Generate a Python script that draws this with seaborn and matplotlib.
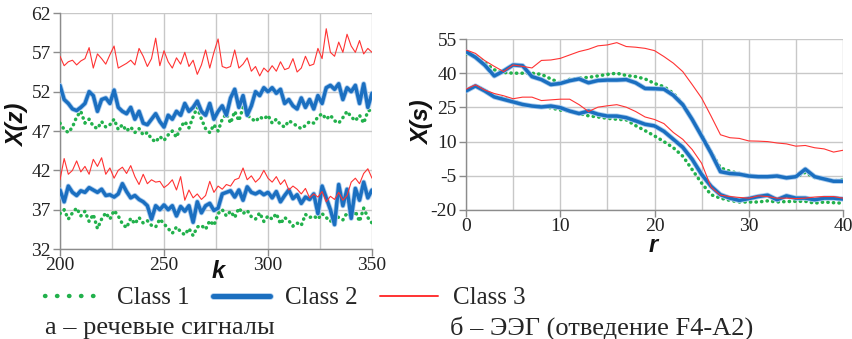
import matplotlib
matplotlib.use("Agg")
import matplotlib.pyplot as plt
import seaborn as sns
import pandas as pd
from matplotlib import patheffects as pe
from matplotlib.lines import Line2D

# ---------------- data: panel a (speech signals) ----------------
k = list(range(200, 351, 2))

speech_c3_hi = [56.5, 55.3, 55.8, 56.0, 55.4, 55.9, 56.2, 57.6, 55.0, 56.8, 56.2,
                55.5, 56.7, 57.8, 55.0, 55.3, 55.6, 56.0, 55.4, 57.5, 56.5,
                55.2, 56.2, 58.8, 55.3, 57.2, 55.8, 55.0, 56.3, 55.5, 57.0,
                55.2, 56.0, 54.2, 55.4, 57.3, 55.0, 57.0, 58.7, 55.2, 55.0,
                55.2, 57.3, 55.0, 55.5, 56.3, 54.6, 55.2, 54.0, 55.0, 54.5,
                55.3, 54.6, 55.8, 54.8, 55.0, 56.2, 54.5, 55.0, 56.5, 55.3,
                55.5, 57.5, 56.2, 60.0, 57.0, 56.5, 58.3, 57.0, 59.3, 57.8,
                57.0, 58.5, 56.8, 57.5, 57.0]
speech_c2_hi = [52.8, 51.0, 50.5, 49.8, 49.6, 50.0, 50.5, 52.0, 51.5, 49.5, 51.0,
                51.2, 50.5, 52.2, 50.0, 49.5, 49.2, 50.0, 48.5, 49.5, 48.0,
                47.8, 48.5, 49.2, 48.2, 47.5, 49.0, 48.5, 49.5, 49.0, 50.5,
                49.5, 50.0, 50.8, 49.5, 49.0, 50.5, 48.5, 49.5, 50.2, 49.0,
                51.2, 52.3, 50.0, 51.5, 49.0, 50.2, 52.0, 51.5, 52.5, 52.0,
                52.5, 51.8, 52.3, 50.5, 51.0, 50.2, 49.8, 51.2, 50.0, 51.0,
                49.8, 51.5, 50.5, 52.5, 52.8, 52.3, 53.0, 51.0, 52.5, 52.0,
                52.8, 50.5, 53.0, 50.0, 51.8]
speech_c1_hi = [48.0, 47.2, 46.8, 47.5, 48.8, 49.5, 48.0, 48.5, 47.6, 47.3, 48.2,
                47.5, 47.8, 48.5, 47.2, 47.8, 47.0, 47.5, 46.8, 47.3, 46.5,
                46.8, 46.0, 45.6, 46.3, 45.8, 46.5, 47.0, 46.2, 47.5, 48.2,
                47.4, 48.8, 50.0, 48.5, 47.3, 46.8, 47.8, 47.0, 48.5, 49.2,
                48.0, 49.5, 48.3, 50.0, 49.0, 48.6, 48.2, 48.8, 48.5, 49.0,
                48.0, 48.5, 47.8, 47.5, 48.3, 48.0, 47.6, 47.3, 47.7, 48.2,
                48.0, 48.8, 49.2, 48.5, 49.0, 48.3, 48.0, 48.7, 49.5, 48.8,
                48.3, 49.0, 48.0, 49.5, 49.8]
speech_c3_lo = [40.8, 43.5, 41.5, 42.0, 43.2, 41.8, 42.5, 41.5, 43.4, 42.5, 43.6,
                41.5, 42.3, 41.0, 42.0, 42.4, 41.6, 42.6, 41.2, 40.2, 41.5,
                40.3, 40.8, 40.5, 40.6, 39.8, 40.2, 40.8, 39.5, 41.2, 38.2,
                39.5, 38.5, 39.0, 38.3, 38.8, 40.6, 39.2, 40.0, 39.6, 40.2,
                40.0, 40.8, 41.0, 42.3, 40.8, 41.3, 40.5, 41.0, 42.0, 41.0,
                40.5, 41.2, 40.2, 40.8, 39.5, 40.0, 39.6, 39.0, 39.7, 38.5,
                39.0, 38.6, 39.3, 38.0, 38.7, 38.3, 39.2, 38.2, 38.8, 40.5,
                41.0, 40.3, 41.6, 42.2, 41.0]
speech_c2_lo = [39.5, 38.0, 40.0, 39.2, 38.8, 39.4, 39.2, 39.8, 39.5, 39.2, 39.6,
                38.8, 38.9, 38.6, 39.0, 40.3, 39.3, 38.5, 38.8, 38.3, 38.0,
                37.5, 35.8, 37.5, 37.0, 37.6, 37.0, 37.5, 36.2, 37.4, 36.8,
                37.5, 35.4, 38.0, 36.6, 37.5, 37.8, 36.9, 37.2, 39.0, 39.2,
                39.4, 38.6, 39.5, 38.2, 39.9, 39.2, 39.0, 39.3, 38.9, 39.2,
                38.5, 39.3, 38.0, 38.8, 39.5, 38.4, 38.9, 37.8, 38.6, 38.3,
                39.0, 36.5, 40.0, 38.5, 37.0, 35.1, 40.2, 37.5, 39.6, 35.9,
                39.7, 38.2, 40.5, 38.5, 39.5]
speech_c1_lo = [36.5, 37.0, 35.8, 36.6, 37.2, 36.2, 36.8, 35.5, 36.4, 34.6, 35.8,
                36.6, 35.8, 36.9, 36.2, 35.2, 34.7, 35.9, 35.2, 36.0, 35.3,
                35.6, 35.0, 34.8, 35.8, 35.2, 34.6, 34.0, 34.8, 34.2, 33.8,
                34.6, 33.7, 34.8, 35.0, 34.5, 35.6, 35.0, 36.5, 37.0, 36.2,
                36.8, 36.0, 37.2, 36.5, 36.9, 36.1, 35.8, 36.6, 35.5, 36.2,
                35.8, 36.5, 35.2, 36.0, 35.6, 34.9, 35.3, 35.0, 36.4, 36.0,
                36.2, 35.8, 36.5, 36.0, 35.5, 36.3, 36.0, 35.7, 36.6, 36.2,
                36.8, 35.5, 37.2, 36.0, 35.3]

speech_xticks = [200, 250, 300, 350]
speech_xgrid = [225, 275, 325]
speech_yticks = [32, 37, 42, 47, 52, 57, 62]

# ---------------- data: panel b (EEG, F4-A2) ----------------
r = list(range(0, 41))

eeg_c3_hi = [50.2, 48.7, 45.5, 43.0, 40.7, 43.6, 43.0, 42.3, 45.6, 45.8,
             46.5, 48.0, 49.5, 50.5, 52.0, 52.4, 53.4, 51.7, 51.4, 50.9,
             49.9, 47.3, 44.4, 40.7, 35.0, 29.1, 21.2, 13.0, 11.7, 11.4,
             10.3, 10.2, 10.0, 9.4, 9.0, 8.0, 8.3, 7.3, 6.8, 5.4, 6.2]
eeg_c2_hi = [49.5, 47.0, 43.5, 38.8, 41.0, 43.6, 43.3, 38.5, 37.2, 35.0,
             35.5, 36.7, 37.5, 35.8, 36.8, 37.0, 37.0, 37.2, 35.8, 33.3,
             33.2, 33.0, 30.3, 26.2, 19.7, 12.4, 5.0, -3.2, -4.0, -4.3,
             -5.1, -5.4, -5.4, -5.1, -5.9, -5.4, -2.1, -5.4, -6.4, -7.4, -7.4]
eeg_c1_hi = [48.5, 47.5, 44.5, 41.5, 40.3, 40.0, 40.0, 40.0, 39.5, 37.5,
             35.7, 37.3, 37.8, 38.2, 38.8, 39.5, 40.0, 39.0, 38.5, 37.5,
             35.5, 34.1, 31.2, 26.5, 19.8, 13.0, 5.5, -1.5, -3.0, -4.0,
             -4.8, -5.3, -5.5, -5.3, -5.6, -5.6, -3.5, -5.8, -6.5, -7.2, -6.8]
eeg_c3_lo = [33.0, 34.9, 32.6, 31.1, 30.1, 28.8, 29.5, 29.5, 28.0, 28.3,
             28.6, 28.6, 26.2, 23.2, 25.1, 25.7, 26.2, 25.1, 23.2, 20.8,
             19.7, 17.9, 14.0, 11.0, 6.5, 0.5, -10.0, -13.5, -14.1, -14.5,
             -14.8, -13.8, -14.1, -14.8, -14.8, -15.0, -14.8, -14.3, -14.1, -14.1, -14.8]
eeg_c2_lo = [32.2, 34.4, 32.2, 29.6, 28.5, 27.4, 26.3, 25.6, 25.2, 25.6,
             24.9, 23.4, 22.3, 23.4, 22.0, 21.2, 21.2, 20.5, 19.1, 17.6,
             16.9, 14.5, 11.0, 7.5, 2.2, -4.4, -9.6, -13.3, -14.8, -15.8,
             -15.0, -14.1, -13.5, -15.5, -13.8, -14.8, -14.8, -15.5, -14.8, -14.8, -15.2]
eeg_c1_lo = [32.5, 34.5, 32.5, 30.0, 29.0, 27.8, 26.3, 25.7, 25.5, 24.8,
             23.8, 23.5, 22.3, 21.3, 20.8, 20.2, 19.8, 19.5, 17.0, 14.8,
             12.5, 10.0, 7.3, 3.6, -2.3, -8.2, -13.3, -14.8, -15.8, -16.5,
             -16.5, -16.5, -16.0, -16.5, -16.3, -16.2, -16.2, -17.0, -16.5, -16.8, -17.0]

eeg_xticks = [0, 10, 20, 30, 40]
eeg_xgrid = [5, 15, 25, 35]
eeg_yticks = [-20, -5, 10, 25, 40, 55]

class_names = ["Class 1", "Class 2", "Class 3"]
caption_a = "а – речевые сигналы"
caption_b = "б – ЭЭГ (отведение F4-A2)"

# ---------------- styling ----------------
sns.set_theme(style="whitegrid")
plt.rcParams["font.family"] = ["Liberation Serif", "DejaVu Serif"]
plt.rcParams["axes.unicode_minus"] = False

GREEN = "#22b14c"
BLUE = "#1b6fc0"
HALO = "#a9cbee"
RED = "#ff3333"
GRID = "#c8c8c8"
SPINE = "#8c8c8c"

W, H = 853, 339
fig = plt.figure(figsize=(W / 100, H / 100), dpi=100)
fig.patch.set_facecolor("white")
ax1 = fig.add_axes([60 / W, 1 - 249 / H, (372 - 60) / W, (249 - 13) / H])
ax2 = fig.add_axes([466 / W, 1 - 210 / H, (843 - 466) / W, (210 - 39) / H])


def draw(ax, x, y, cls):
    df = pd.DataFrame({"x": x, "y": y})
    if cls == 1:
        sns.lineplot(data=df, x="x", y="y", ax=ax, color=GREEN, lw=2.5,
                     linestyle=(0, (0.1, 1.5)), dash_capstyle="round", zorder=3)
    elif cls == 2:
        sns.lineplot(data=df, x="x", y="y", ax=ax, color=BLUE, lw=2.5, zorder=4,
                     path_effects=[pe.Stroke(linewidth=3.7, foreground=HALO), pe.Normal()])
    else:
        sns.lineplot(data=df, x="x", y="y", ax=ax, color=RED, lw=0.8, zorder=5)


for y, c in [(speech_c3_hi, 3), (speech_c1_hi, 1), (speech_c2_hi, 2),
             (speech_c3_lo, 3), (speech_c1_lo, 1), (speech_c2_lo, 2)]:
    draw(ax1, k, y, c)
for y, c in [(eeg_c3_hi, 3), (eeg_c1_hi, 1), (eeg_c2_hi, 2),
             (eeg_c3_lo, 3), (eeg_c1_lo, 1), (eeg_c2_lo, 2)]:
    draw(ax2, r, y, c)

# axes formatting
ax1.set_xlim(200, 350)
ax1.set_ylim(32, 62)
ax1.set_xticks(speech_xticks)
ax1.set_xticks(speech_xgrid, minor=True)
ax1.set_yticks(speech_yticks)

ax2.set_xlim(0, 40)
ax2.set_ylim(-20, 55)
ax2.set_xticks(eeg_xticks)
ax2.set_xticks(eeg_xgrid, minor=True)
ax2.set_yticks(eeg_yticks)

for ax in (ax1, ax2):
    ax.set_facecolor("white")
    ax.set_xlabel("")
    ax.set_ylabel("")
    ax.grid(which="both", color=GRID, lw=1.0)
    for s in ("top", "right"):
        ax.spines[s].set_visible(False)
    for s in ("left", "bottom"):
        ax.spines[s].set_visible(True)
        ax.spines[s].set_color(SPINE)
        ax.spines[s].set_linewidth(1.0)
    ax.tick_params(which="major", bottom=True, left=True, length=5, width=1,
                   color=SPINE, labelsize=14, labelcolor="#222222")
    ax.tick_params(axis="x", which="major", pad=1)
    ax.tick_params(axis="y", which="major", pad=1.5)
    ax.tick_params(which="minor", bottom=False, left=False)
    ax.set_axisbelow(True)

lab = dict(family=["Liberation Sans", "DejaVu Sans"], weight="bold", style="italic",
           fontsize=17, color="#111111", ha="center", va="center")
fig.text(18 / W, 1 - 125 / H, "X(z)", rotation=90, **lab)
fig.text(218 / W, 1 - 271 / H, "k", **lab)
fig.text(423 / W, 1 - 123 / H, "X(s)", rotation=90, **lab)
fig.text(653 / W, 1 - 245 / H, "r", **lab)

# legend
handles = [
    Line2D([], [], color=GREEN, lw=3.2, linestyle=(0, (0.1, 2.6)), dash_capstyle="round"),
    Line2D([], [], color=BLUE, lw=3.6,
           path_effects=[pe.Stroke(linewidth=4.8, foreground=HALO), pe.Normal()]),
    Line2D([], [], color=RED, lw=1.4),
]
fig.legend(handles, class_names, ncol=3, loc="center left",
           bbox_to_anchor=(45 / W, 1 - 298 / H), frameon=False, fontsize=18,
           handlelength=2.3, handletextpad=0.6, columnspacing=0.9,
           borderpad=0, borderaxespad=0)

fig.text(45 / W, 1 - 328 / H, caption_a, fontsize=19, va="center", ha="left")
fig.text(450 / W, 1 - 328 / H, caption_b, fontsize=19, va="center", ha="left")

fig.savefig("out.png", dpi=100, facecolor="white")
